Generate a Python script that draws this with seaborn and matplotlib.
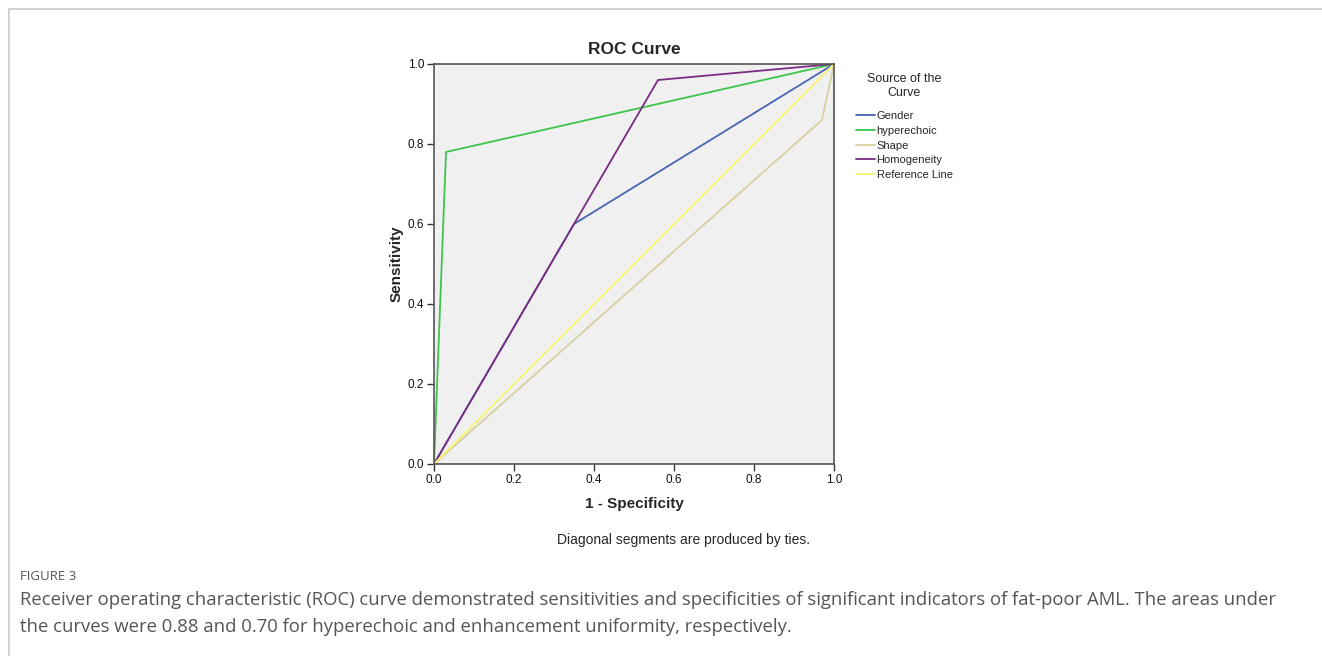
import matplotlib
matplotlib.use("Agg")
import matplotlib.pyplot as plt
import pandas as pd
import seaborn as sns
from matplotlib.patches import Rectangle

sns.set_style("ticks")
plt.rcParams["font.family"] = ["Liberation Sans", "DejaVu Sans"]

# ROC points (1 - specificity, sensitivity) per curve
curves = ["Gender", "hyperechoic", "Shape", "Homogeneity", "Reference Line"]
gender_x = [0.0, 0.35, 1.0]
gender_y = [0.0, 0.60, 1.0]
hyper_x = [0.0, 0.03, 1.0]
hyper_y = [0.0, 0.78, 1.0]
shape_x = [0.0, 0.97, 1.0]
shape_y = [0.0, 0.86, 1.0]
homog_x = [0.0, 0.56, 1.0]
homog_y = [0.0, 0.96, 1.0]
ref_x = [0.0, 1.0]
ref_y = [0.0, 1.0]

colors = ["#4a64b4", "#3dc44c", "#d8d0a2", "#7b2c82", "#f7f56c"]

xs = [gender_x, hyper_x, shape_x, homog_x, ref_x]
ys = [gender_y, hyper_y, shape_y, homog_y, ref_y]
rows = []
for name, cx, cy in zip(curves, xs, ys):
	for i, (a, b) in enumerate(zip(cx, cy)):
		rows.append({"curve": name, "order": i, "fpr": a, "tpr": b})
df = pd.DataFrame(rows)

fig = plt.figure(figsize=(13.22, 6.56), dpi=100)
fig.patches.append(Rectangle((9 / 1322, -0.01), 1.02, 1 - 9 / 656 + 0.01,
	transform=fig.transFigure, fill=False, edgecolor="#c8c8c8", linewidth=1.2))

ax = fig.add_axes([434 / 1322, 1 - 464 / 656, 400 / 1322, 400 / 656])
ax.set_facecolor("#f0f0f0")

sns.lineplot(data=df, x="fpr", y="tpr", hue="curve", hue_order=curves,
	palette=dict(zip(curves, colors)), sort=False, estimator=None, units="curve",
	linewidth=1.3, ax=ax, legend=False)

ax.set_xlim(0, 1)
ax.set_ylim(0, 1)
ticks = [0.0, 0.2, 0.4, 0.6, 0.8, 1.0]
ax.set_xticks(ticks)
ax.set_yticks(ticks)
ax.set_xticklabels([f"{t:.1f}" for t in ticks])
ax.set_yticklabels([f"{t:.1f}" for t in ticks])
ax.tick_params(axis="both", labelsize=8.5, length=5, width=1, color="#333333",
	labelcolor="#111111", pad=2)
for s in ax.spines.values():
	s.set_color("#555555")
	s.set_linewidth(1.2)

ax.set_xlabel("1 - Specificity", fontsize=11, fontweight="bold", labelpad=8)
ax.set_ylabel("Sensitivity", fontsize=11, fontweight="bold", labelpad=3)
ax.set_title("ROC Curve", fontsize=12.5, fontweight="bold", pad=7)

handles = [plt.Line2D([], [], color=c, linewidth=1.3) for c in colors]
leg = fig.legend(handles, curves, title="Source of the\nCurve", loc="upper left",
	bbox_to_anchor=(846 / 1322, 1 - 63 / 656), frameon=False, fontsize=8,
	title_fontsize=9, handlelength=1.7, handletextpad=0.15, labelspacing=0.42)
leg.get_title().set_multialignment("center")
leg._legend_box.sep = 9

fig.text(0.5 + 23 / 1322, 1 - 540 / 656, "Diagonal segments are produced by ties.",
	ha="center", va="center", fontsize=10)

cap = ["Open Sans", "DejaVu Sans"]
fig.text(20 / 1322, 1 - 576 / 656, "FIGURE 3", family=cap, fontsize=9.5,
	color="#555555", va="center")
fig.text(20 / 1322, 1 - 600 / 656,
	"Receiver operating characteristic (ROC) curve demonstrated sensitivities and specificities of significant indicators of fat-poor AML. The areas under",
	family=cap, fontsize=13.3, color="#555555", va="center")
fig.text(20 / 1322, 1 - 627 / 656,
	"the curves were 0.88 and 0.70 for hyperechoic and enhancement uniformity, respectively.",
	family=cap, fontsize=13.3, color="#555555", va="center")

fig.savefig("out.png", dpi=100)
